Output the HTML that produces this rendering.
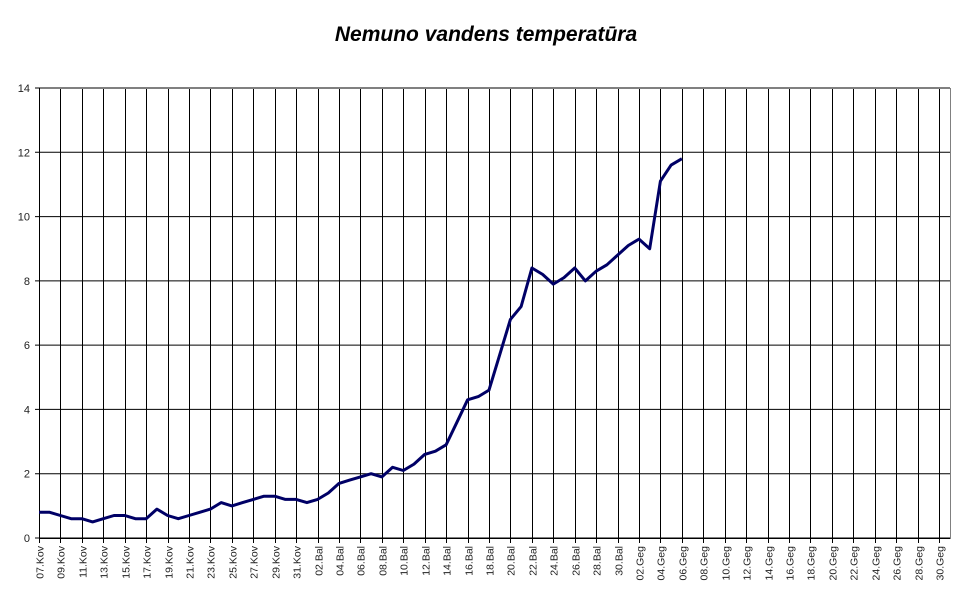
<!DOCTYPE html>
<html><head><meta charset="utf-8"><style>
html,body{margin:0;padding:0;background:#fff;}
svg{display:block;font-family:"Liberation Sans",Arial,sans-serif;}
</style></head><body>
<svg id="c" width="976" height="596" xmlns="http://www.w3.org/2000/svg">
<text x="486" y="41" text-anchor="middle" font-size="21" font-weight="bold" font-style="italic">Nemuno vandens temperatūra</text>
</svg>
<script>
var s=document.getElementById('c'),ns='http://www.w3.org/2000/svg';
function el(t,a,txt){var e=document.createElementNS(ns,t);for(var k in a)e.setAttribute(k,a[k]);if(txt!==undefined)e.textContent=txt;s.appendChild(e);return e;}
var L=39,R=950,T=88,B=538,step=900/42,yu=(B-T)/14;
for(var v=0;v<=14;v+=2){var y=B-v*yu;el('line',{x1:L-4,x2:R,y1:y,y2:y,stroke:'#000','stroke-width':1});
el('text',{x:30,y:y+4,'text-anchor':'end','font-size':11,fill:'#222'},String(v));}
var labs=[];
for(var d=7;d<=31;d+=2)labs.push((d<10?'0':'')+d+'.Kov');
for(var d=2;d<=30;d+=2)labs.push((d<10?'0':'')+d+'.Bal');
for(var d=2;d<=30;d+=2)labs.push((d<10?'0':'')+d+'.Geg');
for(var i=0;i<labs.length;i++){var x=Math.round(L+i*step)+0.5;
el('line',{x1:x,x2:x,y1:T,y2:B+5,stroke:'#000','stroke-width':1});
el('text',{x:0,y:0,'font-size':10.5,fill:'#222','text-anchor':'end',transform:'translate('+(x+4)+','+(B+8)+') rotate(-90)'},labs[i]);}
el('rect',{x:L+0.5,y:T+0.5,width:R-L,height:B-T,fill:'none',stroke:'#808080','stroke-width':1});
el('line',{x1:L,x2:R,y1:B+0.5,y2:B+0.5,stroke:'#000'});
el('line',{x1:L+0.5,x2:L+0.5,y1:T,y2:B,stroke:'#000'});
var data=[0.8,0.8,0.7,0.6,0.6,0.5,0.6,0.7,0.7,0.6,0.6,0.9,0.7,0.6,0.7,0.8,0.9,1.1,1.0,1.1,1.2,1.3,1.3,1.2,1.2,
1.1,1.2,1.4,1.7,1.8,1.9,2.0,1.9,2.2,2.1,2.3,2.6,2.7,2.9,3.6,4.3,4.4,4.6,5.7,6.8,7.2,8.4,8.2,7.9,8.1,8.4,8.0,8.3,8.5,8.8,
9.1,9.3,9.0,11.1,11.6,11.8];
var p=data.map(function(v,i){return (L+i*step/2).toFixed(1)+','+(B-v*yu).toFixed(1);}).join(' ');
el('polyline',{points:p,fill:'none',stroke:'#000066','stroke-width':3,'stroke-linejoin':'round'});
</script>
</body></html>
